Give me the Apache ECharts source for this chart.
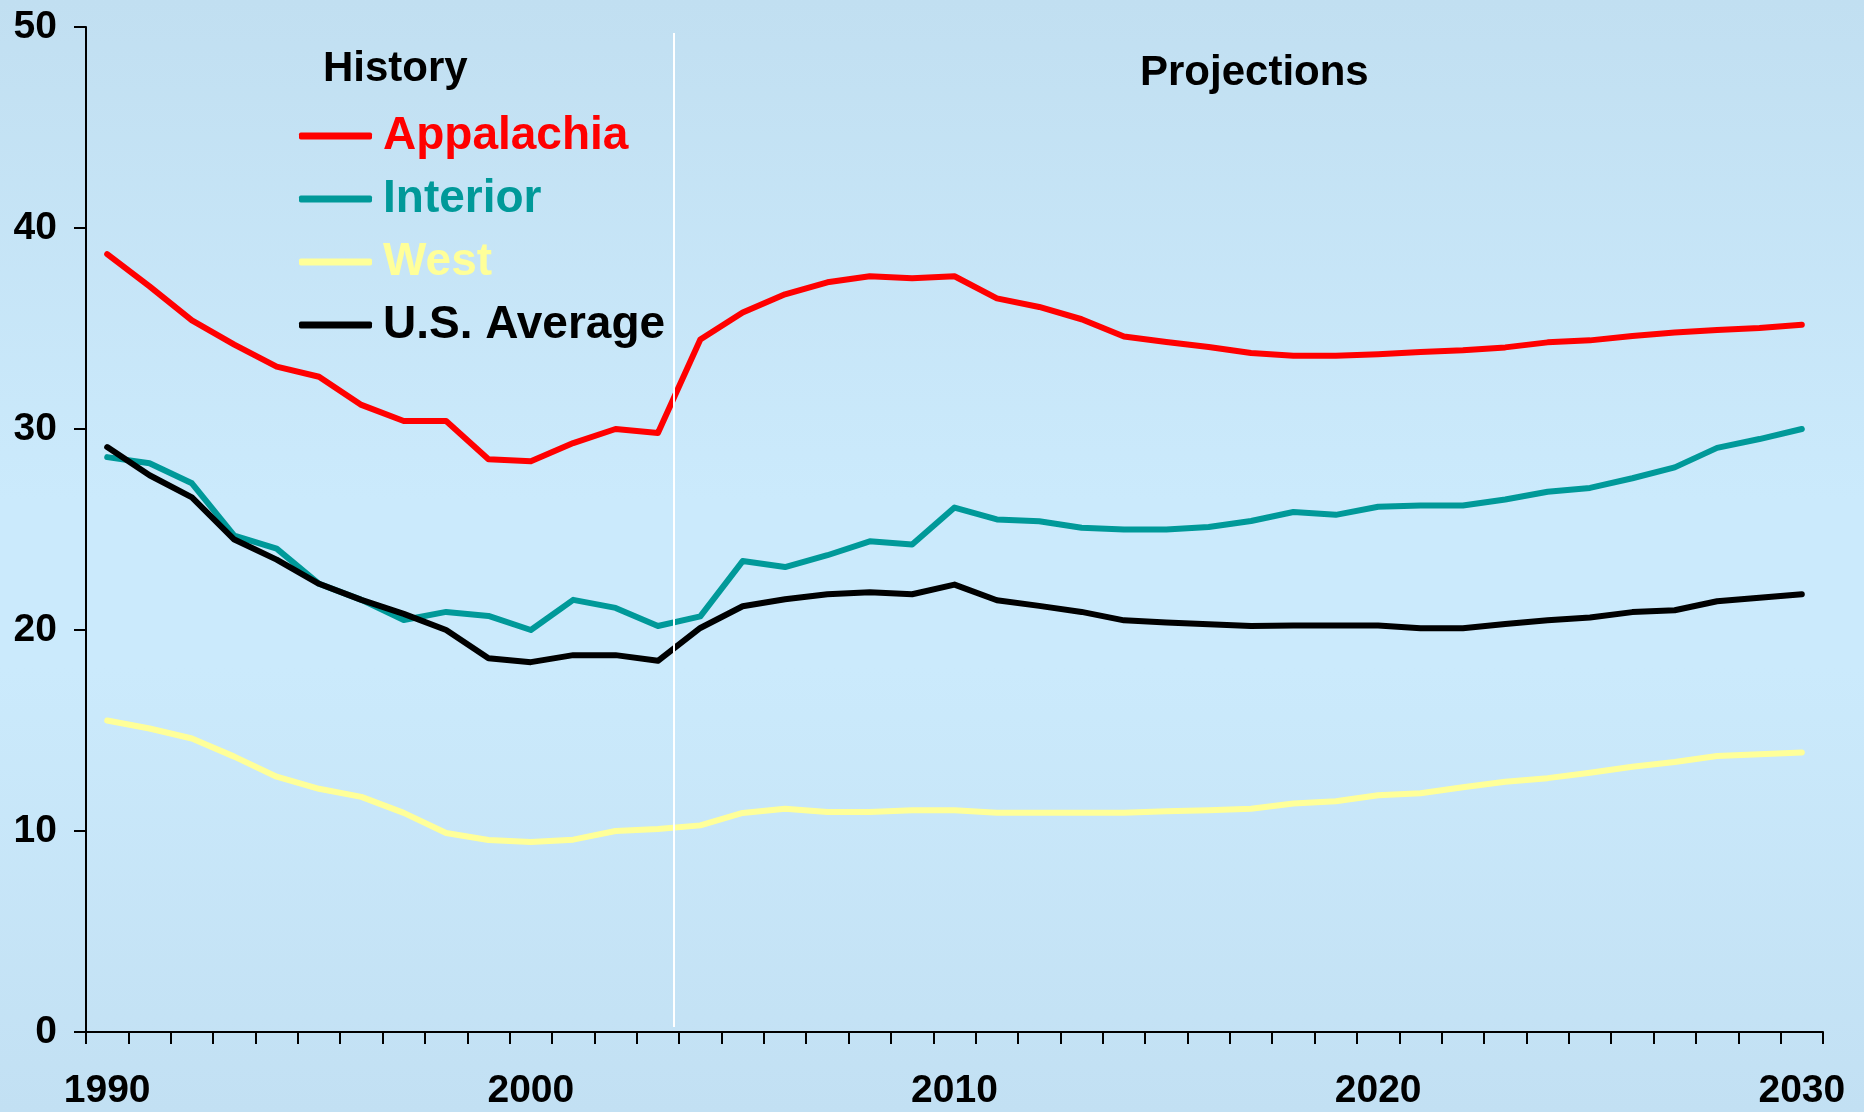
<!DOCTYPE html>
<html>
<head>
<meta charset="utf-8">
<script src="https://cdn.jsdelivr.net/npm/echarts@6/dist/echarts.min.js"></script>
<style>
  html, body { margin: 0; padding: 0; }
  #chart {
    width: 1864px; height: 1112px;
    background: linear-gradient(to bottom, #c1dff1 0%, #cbeafc 45%, #cbeafc 60%, #c2e0f3 100%);
  }
</style>
</head>
<body>
<div id="chart"></div>
<script>
// years 1990 - 2030
var years = [];
for (var y = 1990; y <= 2030; y++) { years.push(String(y)); }

var appalachia = [38.7, 37.1, 35.4, 34.2, 33.1, 32.6, 31.2, 30.4, 30.4, 28.5,
  28.4, 29.3, 30.0, 29.8, 34.45, 35.8, 36.7, 37.3, 37.6, 37.5,
  37.6, 36.5, 36.07, 35.46, 34.6, 34.33, 34.08, 33.78, 33.65, 33.65,
  33.72, 33.83, 33.92, 34.06, 34.31, 34.41, 34.63, 34.8, 34.93, 35.03, 35.19];

var interior = [28.6, 28.3, 27.3, 24.7, 24.05, 22.3, 21.5, 20.5, 20.9, 20.7,
  20.0, 21.5, 21.1, 20.2, 20.68, 23.43, 23.13, 23.72, 24.41, 24.25,
  26.09, 25.5, 25.41, 25.09, 25.0, 25.0, 25.12, 25.42, 25.87, 25.73,
  26.13, 26.19, 26.19, 26.49, 26.88, 27.07, 27.55, 28.09, 29.06, 29.5, 30.0];

var west = [15.5, 15.1, 14.6, 13.7, 12.7, 12.1, 11.7, 10.9, 9.9, 9.55,
  9.45, 9.57, 10.0, 10.1, 10.28, 10.9, 11.11, 10.95, 10.95, 11.03,
  11.03, 10.91, 10.91, 10.91, 10.91, 10.98, 11.03, 11.11, 11.37, 11.48,
  11.78, 11.88, 12.18, 12.45, 12.63, 12.9, 13.2, 13.43, 13.73, 13.82, 13.91];

var usAverage = [29.1, 27.7, 26.6, 24.5, 23.5, 22.3, 21.5, 20.8, 20.0, 18.6,
  18.4, 18.75, 18.75, 18.47, 20.1, 21.18, 21.53, 21.78, 21.88, 21.78,
  22.26, 21.48, 21.2, 20.9, 20.48, 20.37, 20.28, 20.2, 20.22, 20.22,
  20.22, 20.09, 20.09, 20.3, 20.48, 20.62, 20.89, 20.98, 21.43, 21.6, 21.78];

var yTicks = [0, 10, 20, 30, 40, 50];
var historyEnd = 2003.38; // history / projections divider

var chart = echarts.init(document.getElementById('chart'));
var fontFam = '"Liberation Sans", Arial, sans-serif';

function mkLine(name, data, color) {
  return {
    name: name,
    type: 'line',
    data: data,
    showSymbol: false,
    symbol: 'none',
    lineStyle: { color: color, width: 6, cap: 'round', join: 'round' },
    itemStyle: { color: color },
    silent: true,
    z: 3
  };
}

var option = {
  backgroundColor: 'transparent',
  animation: false,
  textStyle: { fontFamily: fontFam },
  title: [
    { text: 'History', left: 318, top: 43,
      textStyle: { fontSize: 42, fontWeight: 'bold', color: '#000', fontFamily: fontFam } },
    { text: 'Projections', left: 1135, top: 47,
      textStyle: { fontSize: 42, fontWeight: 'bold', color: '#000', fontFamily: fontFam } }
  ],
  legend: {
    orient: 'vertical',
    left: 294,
    top: 108,
    itemWidth: 73,
    itemHeight: 7,
    itemGap: 17,
    icon: 'roundRect',
    selectedMode: false,
    textStyle: { fontSize: 46, fontWeight: 'bold', fontFamily: fontFam, lineHeight: 46, padding: [0, 0, 0, 6] },
    data: [
      { name: 'Appalachia', textStyle: { color: '#ff0000' } },
      { name: 'Interior', textStyle: { color: '#009999' } },
      { name: 'West', textStyle: { color: '#ffff99' } },
      { name: 'U.S. Average', textStyle: { color: '#000000' } }
    ]
  },
  grid: { left: 86, right: 41, top: 27, bottom: 80, containLabel: false },
  xAxis: [{
    type: 'category',
    data: years,
    boundaryGap: true,
    axisLine: { onZero: false, lineStyle: { color: '#000', width: 2 } },
    axisTick: { show: true, interval: 0, length: 12, lineStyle: { color: '#000', width: 2 } },
    axisLabel: {
      interval: 9,
      margin: 40,
      fontSize: 39,
      fontWeight: 'bold',
      color: '#000',
      fontFamily: fontFam
    },
    splitLine: { show: false }
  }, {
    type: 'value',
    min: -0.5,
    max: years.length - 0.5,
    show: false
  }],
  yAxis: {
    type: 'value',
    min: yTicks[0],
    max: yTicks[yTicks.length - 1],
    interval: 10,
    axisLine: { show: true, onZero: false, lineStyle: { color: '#000', width: 2 } },
    axisTick: { show: true, length: 12, lineStyle: { color: '#000', width: 2 } },
    axisLabel: { margin: 29, fontSize: 39, fontWeight: 'bold', color: '#000', fontFamily: fontFam },
    splitLine: { show: false }
  },
  series: [
    {
      name: 'divider',
      type: 'line',
      xAxisIndex: 1,
      data: [],
      silent: true,
      markLine: {
        silent: true,
        symbol: 'none',
        label: { show: false },
        lineStyle: { color: '#ffffff', width: 2, type: 'solid' },
        data: [[
          { coord: [historyEnd - 1990, 49.7] },
          { coord: [historyEnd - 1990, 0.25] }
        ]]
      }
    },
    mkLine('West', west, '#ffff99'),
    mkLine('Interior', interior, '#009999'),
    mkLine('U.S. Average', usAverage, '#000000'),
    mkLine('Appalachia', appalachia, '#ff0000')
  ]
};

chart.setOption(option);
</script>
</body>
</html>
